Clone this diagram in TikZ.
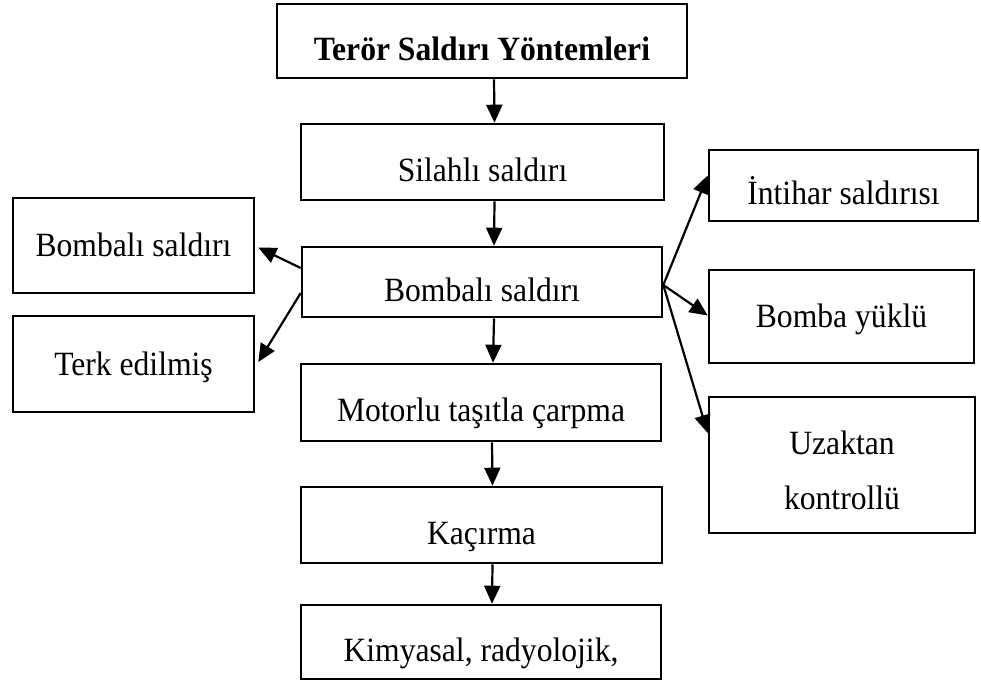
\documentclass[tikz,border=0pt]{standalone}
\usepackage{fontspec}
\setmainfont{Liberation Serif}[FakeStretch=0.93]
\usetikzlibrary{arrows.meta}

\tikzset{
  kutu/.style={draw, line width=2.6pt, inner sep=0pt, align=center,
    font=\fontsize{34}{55}\selectfont, text height=22pt, text depth=0pt},
  asagi/.style={text height=38pt},
  ok/.style={-{Triangle[length=18pt,width=16pt]}, line width=2.2pt},
}

\begin{document}
\begin{tikzpicture}[x=1pt,y=-1pt]
  \useasboundingbox (0,0) rectangle (981,683);

  % Orta sütun
  \node[kutu, asagi, font=\fontsize{34}{55}\selectfont\bfseries, minimum width=410pt, minimum height=74pt] (baslik) at (482,41) {Terör Saldırı Yöntemleri};
  \node[kutu, asagi, minimum width=363pt, minimum height=76pt] (silahli) at (482.5,162) {Silahlı saldırı};
  \node[kutu, asagi, minimum width=360pt, minimum height=70pt] (bombali) at (482,282) {Bombalı saldırı};
  \node[kutu, asagi, minimum width=360pt, minimum height=77pt] (motorlu) at (481,402.5) {Motorlu taşıtla çarpma};
  \node[kutu, asagi, minimum width=361pt, minimum height=76pt] (kacirma) at (481.5,525) {Kaçırma};
  \node[kutu, asagi, minimum width=360pt, minimum height=74pt] (kimyasal) at (481,642) {Kimyasal, radyolojik,};

  % Sol kutular
  \node[kutu, minimum width=241pt, minimum height=95pt] (solbomba) at (133.5,245.5) {Bombalı saldırı};
  \node[kutu, minimum width=241pt, minimum height=96pt] (terk) at (133.5,364) {Terk edilmiş};

  % Sağ kutular
  \node[kutu, asagi, minimum width=269pt, minimum height=71pt] (intihar) at (843.5,185.5) {İntihar saldırısı};
  \node[kutu, minimum width=265pt, minimum height=93pt] (yuklu) at (841.5,316.5) {Bomba yüklü};
  \node[kutu, text height=88pt, minimum width=266pt, minimum height=136pt] (uzaktan) at (842,465) {Uzaktan\\kontrollü};

  % Dikey oklar
  \draw[ok] ([xshift=12pt]baslik.south) -- ([xshift=12pt]silahli.north);
  \draw[ok] ([xshift=12pt]silahli.south) -- ([xshift=12pt]bombali.north);
  \draw[ok] ([xshift=12pt]bombali.south) -- ([xshift=12pt]motorlu.north);
  \draw[ok] ([xshift=11pt]motorlu.south) -- ([xshift=11pt]kacirma.north);
  \draw[ok] ([xshift=11pt]kacirma.south) -- ([xshift=11pt]kimyasal.north);

  % Yan oklar
  \coordinate (solust) at ([yshift=14pt]bombali.west);
  \coordinate (solalt) at ([yshift=-11pt]bombali.west);
  \coordinate (sag) at ([yshift=-3pt]bombali.east);
  \draw[ok] (solust) -- ([xshift=3pt,yshift=-2pt]solbomba.east);
  \draw[ok] (solalt) -- ([xshift=3pt,yshift=2pt]terk.east);
  \draw[ok] (sag) -- ([yshift=10pt]intihar.west);
  \draw[ok] (sag) -- ([yshift=1pt]yuklu.west);
  \draw[ok] (sag) -- ([yshift=32pt]uzaktan.west);
\end{tikzpicture}
\end{document}
